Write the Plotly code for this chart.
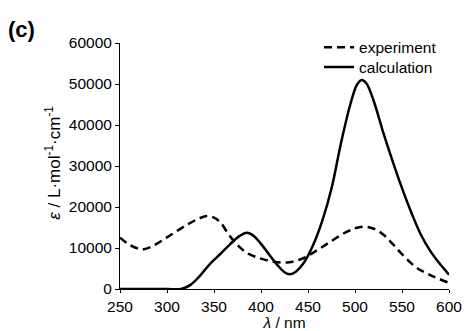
import plotly.graph_objects as go

# Data
exp_x = [250, 260, 270, 275, 285, 300, 320, 335, 343, 350, 357, 365, 375, 385, 400, 415, 430, 445, 460, 475, 490, 500, 510, 520, 530, 540, 550, 565, 580, 600]
exp_y = [12500, 10800, 9800, 9700, 10500, 12600, 15500, 17300, 17800, 17400, 16200, 13500, 10700, 8800, 7400, 6600, 6500, 7500, 9500, 11700, 13800, 14800, 15200, 14700, 13300, 11000, 8500, 5300, 3400, 1500]

calc_x = [250, 300, 315, 325, 335, 346, 357, 367, 377, 385, 392, 400, 410, 418, 425, 431, 437, 445, 455, 465, 475, 485, 495, 502, 507, 512, 520, 530, 540, 550, 560, 570, 580, 590, 600]
calc_y = [0, 0, 0, 1000, 3200, 6200, 8600, 10900, 12900, 13700, 13000, 11000, 8000, 5700, 4100, 3600, 4200, 6200, 10500, 16500, 24500, 35500, 45000, 49800, 51000, 50200, 45800, 38200, 31200, 24600, 18600, 13300, 9300, 6200, 3500]

x_ticks = [250, 300, 350, 400, 450, 500, 550, 600]
y_ticks = [0, 10000, 20000, 30000, 40000, 50000, 60000]
y_ticklabels = ["0", "10000", "20000", "30000", "40000", "50000", "60000"]

fig = go.Figure()
fig.add_trace(go.Scatter(x=exp_x, y=exp_y, mode="lines", name="experiment", legend="legend",
                         line=dict(color="black", width=2.5, dash="8px,5px", shape="spline")))
fig.add_trace(go.Scatter(x=calc_x, y=calc_y, mode="lines", name="calculation", legend="legend2",
                         line=dict(color="black", width=2.5, shape="spline")))

font = "Liberation Sans, Arial, sans-serif"
leg_common = dict(xanchor="left", yanchor="top", bgcolor="rgba(0,0,0,0)", font=dict(size=15.5))
fig.update_layout(
    width=465, height=331,
    margin=dict(l=120, r=16, t=43, b=42),
    plot_bgcolor="white", paper_bgcolor="white",
    font=dict(family=font, size=15.5, color="black"),
    showlegend=True,
    legend=dict(x=0.605, y=1.05, **leg_common),
    legend2=dict(x=0.605, y=0.97, **leg_common),
    xaxis=dict(range=[250, 600], tickvals=x_ticks, showline=True, linecolor="black", linewidth=1,
               ticks="outside", ticklen=3, tickcolor="black", showgrid=False, zeroline=False,
               automargin=False,
               title=dict(text="<i>λ</i> / nm", standoff=2, font=dict(size=15.5))),
    yaxis=dict(range=[0, 60000], tickvals=y_ticks, ticktext=y_ticklabels, showline=True,
               linecolor="black", linewidth=1, automargin=False,
               ticks="outside", ticklen=4, tickcolor="black", showgrid=False, zeroline=False),
)
fig.add_annotation(text="<i>ε</i> / L·mol<sup>-1</sup>·cm<sup>-1</sup>", xref="paper", yref="paper",
                   x=-0.204, y=0.513, xanchor="center", yanchor="middle", textangle=-90,
                   showarrow=False, font=dict(size=17, family=font))
fig.add_annotation(text="<b>(c)</b>", xref="paper", yref="paper", x=-0.345, y=1.115,
                   xanchor="left", yanchor="top", showarrow=False, font=dict(size=22, family=font))
fig.write_html("out.html", config={"displayModeBar": False},
               post_script="document.body.style.margin='0';document.body.style.overflow='hidden';")
